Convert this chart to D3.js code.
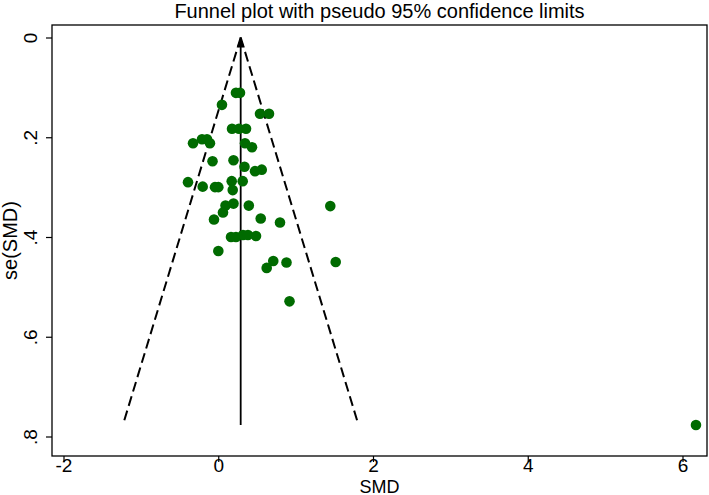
<!DOCTYPE html>
<html>
<head>
<meta charset="utf-8">
<script src="https://cdn.jsdelivr.net/npm/d3@7"></script>
<style>
  html, body { margin: 0; padding: 0; background: #fff; }
  svg { display: block; font-family: "Liberation Sans", Arial, Helvetica, sans-serif; }
</style>
</head>
<body>
<svg id="chart" width="709" height="495"></svg>
<script>
// ---- Data ----
const smd = [0.229, 0.281, 0.048, 0.54, 0.656, 0.178, 0.268, 0.359, -0.326, -0.21,
             -0.145, -0.107, 0.346, 0.436, -0.074, 0.197, 0.339, 0.475, 0.562, -0.391,
             -0.201, -0.042, 0.001, 0.174, 0.316, 0.187, 0.094, 0.197, 0.395, 1.448,
             0.061, -0.055, 0.549, 0.798, 0.165, 0.229, 0.320, 0.384, 0.488, 0.001,
             0.711, 0.626, 0.882, 1.518, 0.921, 6.174];
const seSmd = [0.111, 0.111, 0.135, 0.153, 0.153, 0.183, 0.183, 0.183, 0.212, 0.204,
               0.204, 0.212, 0.212, 0.220, 0.248, 0.246, 0.259, 0.268, 0.265, 0.290,
               0.299, 0.300, 0.300, 0.288, 0.288, 0.306, 0.337, 0.333, 0.337, 0.338,
               0.351, 0.365, 0.363, 0.371, 0.400, 0.400, 0.396, 0.396, 0.398, 0.428,
               0.448, 0.462, 0.451, 0.450, 0.529, 0.777];
const pooledEstimate = 0.29;
const zCrit = 1.96;
const xTicks = [-2, 0, 2, 4, 6];
const yTicks = [0, 0.2, 0.4, 0.6, 0.8];
const titleText = "Funnel plot with pseudo 95% confidence limits";
const xLabel = "SMD";
const yLabel = "se(SMD)";

// ---- Layout ----
const frame = { left: 52, right: 707, top: 25, bottom: 456 };
const svg = d3.select("#chart");
const FONT = "\"Liberation Sans\", Arial, Helvetica, sans-serif";

const x = d3.scaleLinear().domain([-2, 6]).range([63.5, 682.5]);
const y = d3.scaleLinear().domain([0, 0.8]).range([37.5, 436.5]);

const seMax = d3.max(seSmd);

// Title
svg.append("text")
  .attr("x", (frame.left + frame.right) / 2)
  .attr("y", 18)
  .attr("text-anchor", "middle")
  .attr("font-size", 20)
  .attr("fill", "#000")
  .text(titleText);

// Frame
svg.append("rect")
  .attr("x", frame.left).attr("y", frame.top)
  .attr("width", frame.right - frame.left)
  .attr("height", frame.bottom - frame.top)
  .attr("fill", "none").attr("stroke", "#000").attr("stroke-width", 1.3);

// X axis
const xAxis = svg.append("g")
  .attr("transform", `translate(0,${frame.bottom})`)
  .call(d3.axisBottom(x).tickValues(xTicks).tickSize(6)
        .tickFormat(d => String(d)));
xAxis.select(".domain").remove();
xAxis.selectAll("line").attr("stroke", "#000").attr("stroke-width", 1.2);
xAxis.selectAll("text").attr("font-size", 19).attr("fill", "#000")
  .attr("font-family", FONT)
  .attr("y", 15.5).attr("dy", null);

// Y axis
const yAxis = svg.append("g")
  .attr("transform", `translate(${frame.left},0)`)
  .call(d3.axisLeft(y).tickValues(yTicks).tickSize(6)
        .tickFormat(d => d === 0 ? "0" : String(d).replace(/^0\./, ".")));
yAxis.select(".domain").remove();
yAxis.selectAll("line").attr("stroke", "#000").attr("stroke-width", 1.2);
yAxis.selectAll("text")
  .attr("font-size", 19).attr("fill", "#000")
  .attr("font-family", FONT)
  .attr("x", null).attr("dy", null)
  .attr("text-anchor", "middle")
  .attr("transform", "translate(-15,0) rotate(-90)");

// Axis titles
svg.append("text")
  .attr("x", (frame.left + frame.right) / 2)
  .attr("y", 492.5)
  .attr("text-anchor", "middle")
  .attr("font-size", 18)
  .attr("fill", "#000")
  .text(xLabel);

svg.append("text")
  .attr("transform", `translate(17,${(frame.top + frame.bottom) / 2}) rotate(-90)`)
  .attr("text-anchor", "middle")
  .attr("font-size", 20)
  .attr("fill", "#000")
  .text(yLabel);

// Pseudo 95% CI limits (dashed)
const lowerLine = [[pooledEstimate, 0], [pooledEstimate - zCrit * seMax, seMax]];
const upperLine = [[pooledEstimate, 0], [pooledEstimate + zCrit * seMax, seMax]];
const line = d3.line().x(d => x(d[0])).y(d => y(d[1]));
[lowerLine, upperLine].forEach(l => {
  svg.append("path").attr("d", line(l))
    .attr("fill", "none").attr("stroke", "#000")
    .attr("stroke-width", 2).attr("stroke-dasharray", "10,5");
});

// Pooled estimate line with arrow at top
svg.append("path").attr("d", line([[pooledEstimate, seMax], [pooledEstimate, 0]]))
  .attr("fill", "none").attr("stroke", "#000").attr("stroke-width", 1.8);
const ax = x(pooledEstimate), ay = y(0);
svg.append("path")
  .attr("d", `M${ax},${ay} L${ax - 4},${ay + 10} L${ax + 4},${ay + 10} Z`)
  .attr("fill", "#000");

// Points
svg.append("g").selectAll("circle")
  .data(smd.map((v, i) => [v, seSmd[i]]))
  .join("circle")
  .attr("cx", d => x(d[0]))
  .attr("cy", d => y(d[1]))
  .attr("r", 5.3)
  .attr("fill", "#006b00");
</script>
</body>
</html>
